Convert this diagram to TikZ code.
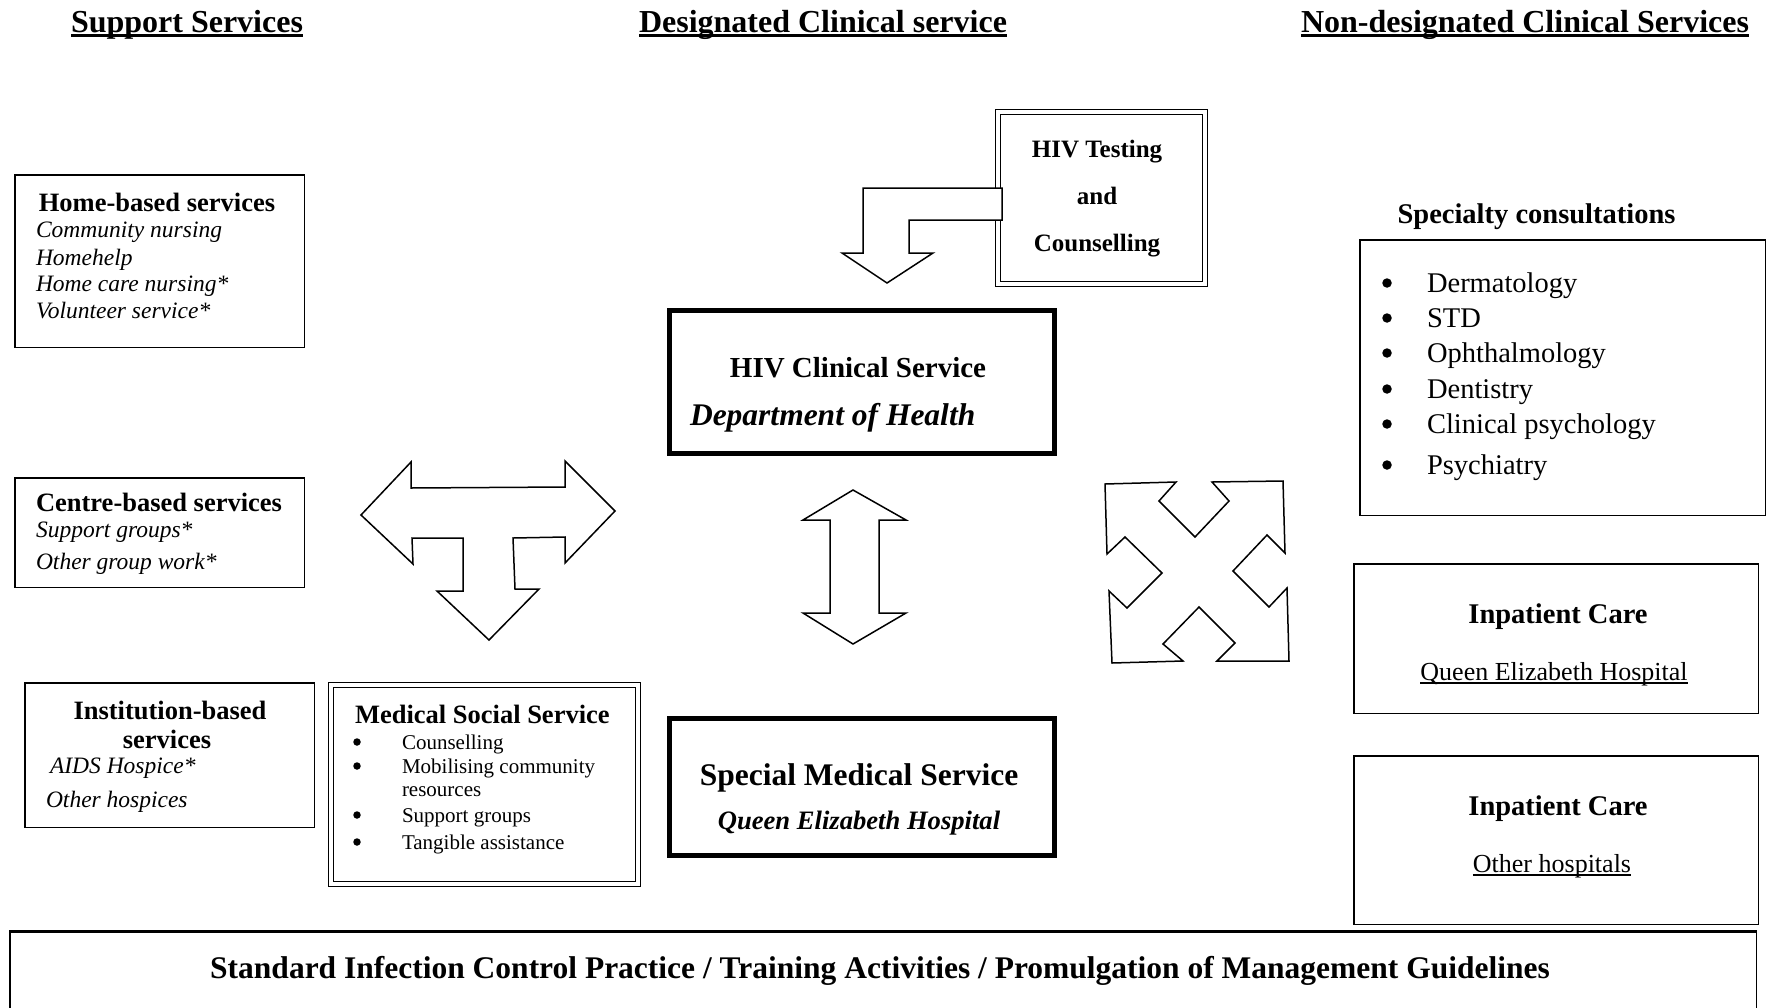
\documentclass[tikz,border=0pt]{standalone}
\usepackage{fontspec}
\setmainfont{Liberation Serif}
\newcommand\fs[1]{\fontsize{#1}{#1}\selectfont}
\newcommand\myul[3]{\setbox0=\hbox{#3}\rlap{\rule[#1]{\wd0}{#2}}\box0}
\begin{document}
\begin{tikzpicture}[x=1pt,y=-1pt,
  txt/.style={inner sep=0pt, outer sep=0pt},
  plainbox/.style={draw, line width=1.5pt, inner sep=0pt},
  heavybox/.style={draw, line width=5pt, inner sep=0pt},
  dblbox/.style={draw, double, line width=1.3pt, double distance=3.5pt, inner sep=0pt},
  blockarrow/.style={draw, line width=1.5pt, fill=white, line join=miter, miter limit=10},
  dot/.style={circle, fill=black, inner sep=0pt, minimum size=#1},
  dot/.default=8pt,
  hdr/.style={txt, anchor=base, font=\fs{32}\bfseries},
  ttl/.style={txt, font=\fs{26.5}\bfseries},
  itl/.style={txt, anchor=base west, font=\fs{23.5}\itshape},
  msl/.style={txt, anchor=base west, font=\fs{21}},
  spl/.style={txt, anchor=base west, font=\fs{28.5}}]
\useasboundingbox (0,0) rectangle (1768,1007);
\fill[white] (0,0) rectangle (1768,1007);

% headers
\node[hdr] (h1) at (187,32) {\myul{-5pt}{2.8pt}{Support Services}};
\node[hdr] (h2) at (823,32) {\myul{-5pt}{2.8pt}{Designated Clinical service}};
\node[hdr] (h3) at (1525,32) {\myul{-5pt}{2.8pt}{Non-designated Clinical Services}};

% left column boxes
\node[plainbox, minimum width=289.5pt, minimum height=172.5pt] (home) at (159.5,261) {};
\node[ttl, anchor=base] (homet) at (157,211) {Home-based services};
\node[itl] (home1) at (36,237) {Community nursing};
\node[itl] (home2) at (36,265) {Homehelp};
\node[itl] (home3) at (36,291) {Home care nursing*};
\node[itl] (home4) at (36,318) {Volunteer service*};

\node[plainbox, minimum width=289.5pt, minimum height=109.5pt] (centre) at (159.5,532.5) {};
\node[ttl, anchor=base west] (centret) at (36,511) {Centre-based services};
\node[itl] (centre1) at (36,537) {Support groups*};
\node[itl] (centre2) at (36,569) {Other group work*};

\node[plainbox, minimum width=289.5pt, minimum height=144.5pt] (inst) at (169.5,755) {};
\node[ttl, anchor=base] (instt1) at (170,719) {Institution-based};
\node[ttl, anchor=base] (instt2) at (167,748) {services};
\node[itl] (inst1) at (50,773) {AIDS Hospice*};
\node[itl] (inst2) at (46,807) {Other hospices};

\node[dblbox, minimum width=307pt, minimum height=199pt] (mss) at (484.5,784.5) {};
\node[ttl, anchor=base west] (msst) at (355,723) {Medical Social Service};
\foreach \yy/\tt/\bb [count=\i] in {749/Counselling/1, 773/Mobilising community/1, 796/resources/0, 822/Support groups/1, 849/Tangible assistance/1}{
  \node[msl] (mssi\i) at (402,\yy) {\tt};
  \ifnum\bb=1 \node[dot=7.5pt] (mssb\i) at (357,\yy-7) {}; \fi
}

% centre column
\node[dblbox, minimum width=207pt, minimum height=172pt] (test) at (1101.5,198) {};
\node[txt, anchor=base, font=\fs{25}\bfseries] (test1) at (1097,157) {HIV Testing};
\node[txt, anchor=base, font=\fs{25}\bfseries] (test2) at (1097,204) {and};
\node[txt, anchor=base, font=\fs{25}\bfseries] (test3) at (1097,251) {Counselling};

\node[heavybox, minimum width=385pt, minimum height=143pt] (clin) at (862,382) {};
\node[txt, anchor=base, font=\fs{29}\bfseries] (clin1) at (858,377) {HIV Clinical Service};
\node[txt, anchor=base west, font=\fs{31.5}\bfseries\itshape] (clin2) at (690,425) {Department of Health};

\node[heavybox, minimum width=385pt, minimum height=137pt] (smed) at (862,787) {};
\node[txt, anchor=base, font=\fs{31.5}\bfseries] (smed1) at (859,785) {Special Medical Service};
\node[txt, anchor=base, font=\fs{26.6}\bfseries\itshape] (smed2) at (859,829) {Queen Elizabeth Hospital};

% right column
\node[txt, anchor=base, font=\fs{28.5}\bfseries] (spect) at (1536.5,223) {Specialty consultations};
\node[plainbox, minimum width=405.5pt, minimum height=275.5pt] (spec) at (1562.5,377.5) {};
\foreach \yy/\tt [count=\i] in {292/Dermatology, 327/STD, 362/Ophthalmology, 398/Dentistry, 433/Clinical psychology, 474/Psychiatry}{
  \node[spl] (speci\i) at (1427,\yy) {\tt};
  \node[dot=9.5pt] (specb\i) at (1387,\yy-9) {};
}

\node[plainbox, minimum width=404.5pt, minimum height=149.5pt] (inp1) at (1556,638.5) {};
\node[txt, anchor=base, font=\fs{28.5}\bfseries] (inp1t) at (1558,623) {Inpatient Care};
\node[txt, anchor=base, font=\fs{26}] (inp1s) at (1554,680) {\myul{-4pt}{2pt}{Queen Elizabeth Hospital}};

\node[plainbox, minimum width=404.5pt, minimum height=168.5pt] (inp2) at (1556,840) {};
\node[txt, anchor=base, font=\fs{28.5}\bfseries] (inp2t) at (1558,815) {Inpatient Care};
\node[txt, anchor=base, font=\fs{26}] (inp2s) at (1552,872) {\myul{-4pt}{2pt}{Other hospitals}};

% bottom bar
\node[plainbox, minimum width=1746.5pt, minimum height=98.25pt] (bar) at (883,980.9) {};
\draw[line width=2.5pt] (bar.north west) -- (bar.north east);
\node[txt, anchor=base, font=\fs{31.5}\bfseries] (bart) at (880,978) {Standard Infection Control Practice / Training Activities / Promulgation of Management Guidelines};

% block arrows
\draw[blockarrow] (1002,188) -- (863,188) -- (863,253) -- (842,253) -- (887,283) -- (933,253) -- (909,253) -- (909,220) -- (1002,220) -- cycle;

\draw[blockarrow] (361,515) -- (411,462) -- (411,488) -- (565,487) -- (565,461) -- (615,511) -- (565,563) -- (565,537) -- (513,538) -- (515,589) -- (539,589) -- (489,640) -- (437,591) -- (463,591) -- (463,538) -- (412,538) -- (413,564) -- cycle;

\draw[blockarrow] (853,490) -- (906,520) -- (879,520) -- (879,613) -- (906,613) -- (853,644) -- (803,613) -- (830,613) -- (830,520) -- (803,520) -- cycle;

\draw[blockarrow] (1105,484) -- (1176,482) -- (1159,501) -- (1195,537) -- (1229,501) -- (1212,482) -- (1283,481) -- (1285,553) -- (1267,535) -- (1233,571) -- (1269,607) -- (1287,588) -- (1289,661) -- (1217,661) -- (1235,643) -- (1199,607) -- (1163,644) -- (1183,661) -- (1112,663) -- (1109,591) -- (1127,608) -- (1162,573) -- (1125,537) -- (1107,554) -- cycle;
\end{tikzpicture}
\end{document}
